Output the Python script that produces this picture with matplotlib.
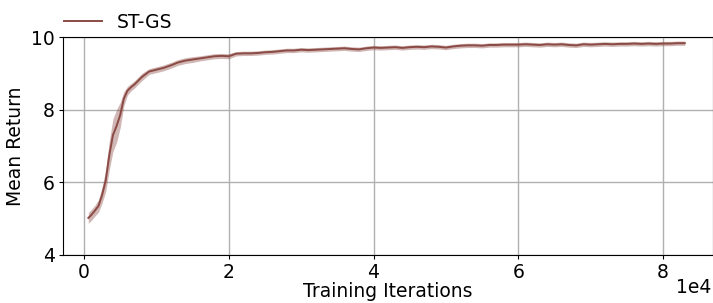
import numpy as np
import matplotlib.pyplot as plt
from matplotlib.ticker import FuncFormatter

# training iterations and mean return of ST-GS
iters = [600, 1000, 1500, 2000, 2500, 3000, 3500, 4000, 4500, 5000, 5500, 6000,
         6500, 7000, 7500, 8000, 9000, 10000, 11000, 12000, 13000, 14000, 15000,
         16000, 17000, 18000, 19000, 20000, 21000, 22000, 23000, 24000, 25000,
         26000, 27000, 28000, 29000, 30000, 31000, 32000, 33000, 34000, 35000,
         36000, 37000, 38000, 39000, 40000, 41000, 42000, 43000, 44000, 45000,
         46000, 47000, 48000, 49000, 50000, 51000, 52000, 53000, 54000, 55000,
         56000, 57000, 58000, 59000, 60000, 61000, 62000, 63000, 64000, 65000,
         66000, 67000, 68000, 69000, 70000, 71000, 72000, 73000, 74000, 75000,
         76000, 77000, 78000, 79000, 80000, 81000, 82000, 83000]
mean_return = [5.02, 5.10, 5.22, 5.35, 5.65, 6.05, 6.75, 7.30, 7.55, 7.85, 8.30, 8.52,
               8.62, 8.70, 8.80, 8.90, 9.05, 9.10, 9.15, 9.22, 9.30, 9.35, 9.38,
               9.41, 9.44, 9.47, 9.48, 9.47, 9.54, 9.55, 9.55, 9.56, 9.58,
               9.59, 9.61, 9.63, 9.63, 9.65, 9.64, 9.65, 9.66, 9.67, 9.68,
               9.69, 9.67, 9.66, 9.69, 9.71, 9.70, 9.71, 9.72, 9.70, 9.72,
               9.73, 9.72, 9.74, 9.73, 9.71, 9.74, 9.76, 9.77, 9.77, 9.76,
               9.78, 9.78, 9.79, 9.79, 9.79, 9.80, 9.79, 9.78, 9.80, 9.79,
               9.80, 9.78, 9.77, 9.80, 9.79, 9.80, 9.81, 9.80, 9.81, 9.81,
               9.82, 9.81, 9.82, 9.81, 9.82, 9.82, 9.83, 9.83]
spread = [0.15, 0.15, 0.15, 0.17, 0.22, 0.30, 0.40, 0.45, 0.45, 0.35, 0.20, 0.12,
          0.10, 0.10, 0.10, 0.10, 0.08, 0.08, 0.08, 0.08, 0.08, 0.08, 0.08,
          0.07, 0.07, 0.07, 0.07, 0.07] + [0.06] * 63

x = np.array(iters)
m = np.array(mean_return)
s = np.array(spread)

col = '#8b4a44'
fs = 13.5

fig = plt.figure(figsize=(7.13, 3.03), dpi=100)
ax = fig.add_axes([63/713, 1-255/303, 1-63/713, (255-37)/303])

ax.fill_between(x, m - s, m + s, color=col, alpha=0.4, lw=0)
ax.plot(x, m, color=col, lw=1.4, label='ST-GS')

ax.set_xlim(-2900, 86900)
ax.set_ylim(4, 10)
ax.set_yticks([4, 6, 8, 10])
ax.set_xticks([0, 20000, 40000, 60000, 80000])
ax.xaxis.set_major_formatter(FuncFormatter(lambda v, p: '%g' % (v / 1e4)))
ax.text(0.998, -0.147, '1e4', transform=ax.transAxes, ha='right', va='center',
        fontsize=fs)
ax.tick_params(labelsize=fs, length=3, pad=3)
ax.grid(True, color='#b0b0b0', lw=1)
ax.set_axisbelow(True)
ax.set_xlabel('Training Iterations', fontsize=fs, labelpad=0)
ax.set_ylabel('Mean Return', fontsize=fs, labelpad=4)

ax.legend(loc='lower left', bbox_to_anchor=(-0.01, 0.99), frameon=False,
          fontsize=fs, borderaxespad=0)

fig.savefig('out.png', dpi=100)
